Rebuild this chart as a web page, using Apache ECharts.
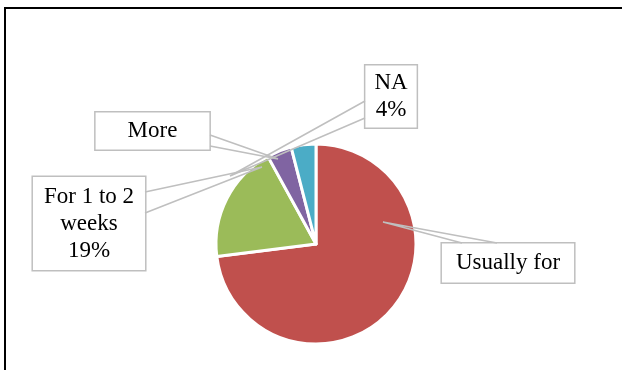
<!DOCTYPE html>
<html>
<head>
<meta charset="utf-8">
<script src="https://cdn.jsdelivr.net/npm/echarts@6/dist/echarts.min.js"></script>
<style>
  html, body { margin: 0; padding: 0; background: #fff; }
  #chart { width: 622px; height: 370px; }
</style>
</head>
<body>
<div id="chart"></div>
<script>
// Duration categories and their shares (percent)
const categories = ['Usually for', 'For 1 to 2 weeks', 'More', 'NA'];
const shares = [73, 19, 4, 4];
const showPercent = [false, true, false, true];

// Slice colours
const sliceColors = ['#C0504D', '#9BBB59', '#8064A2', '#4BACC6'];

// Callout boxes: centre of the box, padding, and leader wedge (box edge, tip, box edge)
const callouts = [
  { cx: 508, cy: 263, pad: [6, 14], wedge: [[462, 243], [383, 222], [497, 243]] },
  { cx: 89, cy: 223.5, pad: [6, 11], wedge: [[145, 192], [262, 167], [145, 213]] },
  { cx: 152.5, cy: 131, pad: [5, 32], wedge: [[210, 135], [278, 159], [210, 146]] },
  { cx: 391, cy: 96.5, pad: [4, 9], wedge: [[365, 101], [230, 176], [365, 118]] }
];

const FONT = '"Liberation Serif", "Times New Roman", serif';

const chart = echarts.init(document.getElementById('chart'), null, { renderer: 'canvas' });

const data = categories.map((name, i) => ({
  name: name,
  value: shares[i],
  itemStyle: { color: sliceColors[i] },
  label: { padding: callouts[i].pad }
}));

// Callout wedges drawn above the slices
const leaders = callouts.map(c => ({
  type: 'polyline',
  z: 100,
  silent: true,
  shape: { points: c.wedge },
  style: { fill: null, stroke: '#bfbfbf', lineWidth: 1.5 }
}));

chart.setOption({
  animation: false,
  backgroundColor: '#ffffff',
  graphic: [{
    type: 'rect',
    shape: { x: 5, y: 8, width: 660, height: 420 },
    style: { fill: null, stroke: '#000000', lineWidth: 2 },
    silent: true
  }].concat(leaders),
  series: [{
    type: 'pie',
    center: [316, 244],
    radius: 100,
    startAngle: 90,
    clockwise: true,
    avoidLabelOverlap: false,
    itemStyle: { borderColor: '#ffffff', borderWidth: 3 },
    label: {
      show: true,
      position: 'outside',
      fontFamily: FONT,
      fontSize: 23,
      lineHeight: 27,
      color: '#000000',
      align: 'center',
      backgroundColor: '#ffffff',
      borderColor: '#bfbfbf',
      borderWidth: 1.5,
      formatter: function (p) {
        const pct = Math.round(p.percent) + '%';
        const i = p.dataIndex;
        const name = i === 1 ? 'For 1 to 2\nweeks' : p.name;
        return showPercent[i] ? name + '\n' + pct : name;
      }
    },
    labelLine: { show: false },
    labelLayout: function (params) {
      const c = callouts[params.dataIndex];
      return { x: c.cx, y: c.cy, align: 'center', verticalAlign: 'middle' };
    },
    emphasis: { disabled: true },
    data: data
  }]
});
</script>
</body>
</html>
